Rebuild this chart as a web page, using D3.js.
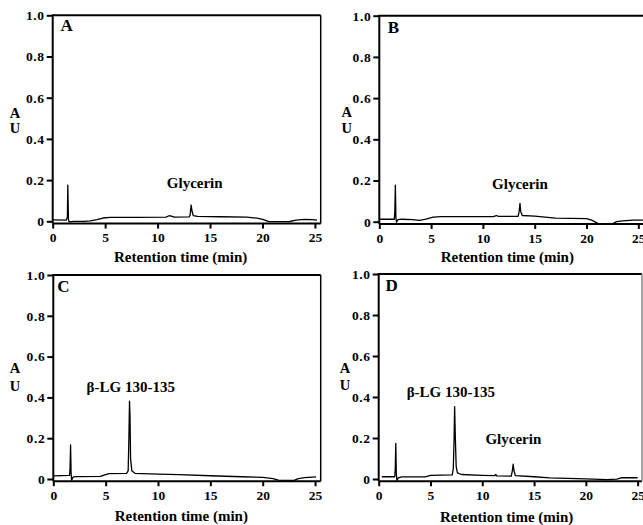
<!DOCTYPE html>
<html>
<head>
<meta charset="utf-8">
<script src="https://cdn.jsdelivr.net/npm/d3@7"></script>
<style>
  body { margin: 0; background: #fff; }
  text { font-family: "Liberation Serif", "Times New Roman", serif; font-weight: bold; fill: #000; }
</style>
</head>
<body>
<svg id="chart" width="643" height="525"></svg>
<script>
// tick values
const xTicks = [0, 5, 10, 15, 20, 25]
const yTicks = [0, 0.2, 0.4, 0.6, 0.8, 1.0]
const xTitle = "Retention time (min)"

// chromatograms, [retention time (min), absorbance (AU)]
const traceA = [[0,0.007],[1.3,0.006],[1.4,0.02],[1.44,0.176],[1.5,0.01],[1.56,-0.003],[2,0],[3,0],[3.6,0.002],[4.2,0.008],
  [4.8,0.016],[5.5,0.019],[8,0.019],[10.8,0.02],[11.1,0.027],[11.3,0.025],[11.6,0.02],[13.0,0.021],[13.1,0.03],[13.2,0.079],
  [13.28,0.05],[13.4,0.028],[13.8,0.024],[16,0.022],[18.5,0.02],[19.5,0.015],[20.1,0.008],[20.6,-0.002],[22,-0.002],
  [22.6,-0.001],[23.2,0.006],[24,0.009],[24.8,0.008],[25.2,0.006]]
const traceB = [[0,0.012],[1.45,0.012],[1.5,0.05],[1.55,0.178],[1.6,0.02],[1.66,-0.002],[1.8,0.01],[2.2,0.012],[3.2,0.01],
  [3.9,0.006],[4.5,0.012],[5.2,0.022],[6,0.025],[11,0.025],[11.3,0.03],[11.5,0.026],[13.4,0.026],[13.5,0.05],[13.58,0.089],
  [13.65,0.05],[13.8,0.03],[15,0.027],[16,0.022],[17,0.017],[20,0.015],[20.5,0.008],[21.1,-0.008],[22.5,-0.01],[22.9,0],
  [23.5,0.004],[24.5,0.008],[25.5,0.008]]
const traceC = [[0,0.015],[1.55,0.018],[1.6,0.05],[1.65,0.167],[1.7,0.03],[1.75,-0.006],[1.9,0.01],[2.3,0.012],[4.5,0.013],
  [5.0,0.022],[5.3,0.026],[7.0,0.028],[7.15,0.04],[7.22,0.2],[7.28,0.382],[7.33,0.3],[7.38,0.1],[7.5,0.04],[7.8,0.028],
  [10,0.024],[12,0.021],[15,0.016],[18,0.011],[20,0.008],[21,0.002],[21.5,-0.006],[23,-0.007],[23.4,0.002],[24,0.007],[25.1,0.01]]
const traceD = [[0.3,0.011],[1.55,0.011],[1.6,0.05],[1.65,0.174],[1.7,0.03],[1.76,-0.008],[1.9,0.006],[2.2,0.01],[4.5,0.01],
  [5.0,0.018],[7.1,0.02],[7.2,0.05],[7.28,0.2],[7.33,0.353],[7.4,0.2],[7.48,0.06],[7.6,0.03],[8,0.022],[10,0.018],[11.2,0.016],
  [11.3,0.022],[11.4,0.015],[12.8,0.014],[12.9,0.04],[12.98,0.072],[13.06,0.04],[13.2,0.016],[15,0.011],[16.5,0.005],
  [20,0.001],[22,-0.003],[23,-0.001],[23.4,0.006],[25,0.006]]

// peak labels, [text, time, AU]
const notesA = [["Glycerin", 13.54, 0.162]]
const notesB = [["Glycerin", 13.58, 0.161]]
const notesC = [["β-LG 130-135", 7.4, 0.426]]
const notesD = [["β-LG 130-135", 6.96, 0.398], ["Glycerin", 13.0, 0.173]]

const panels = [
  {name: "A", trace: traceA, notes: notesA, left: 52.7, right: 320.7, xmax: 25.55, top: 15.3, zero: 221.3,
   titleY: 262, auX: 15, auY: [118, 133], letter: [66.7, 31], rightColor: "#000"},
  {name: "B", trace: traceB, notes: notesB, left: 379.3, right: 644, xmax: 25.55, top: 15.7, zero: 221.7,
   titleY: 262, auX: 346.7, auY: [116.5, 133], letter: [393.3, 33], rightColor: "#000"},
  {name: "C", trace: traceC, notes: notesC, left: 53.3, right: 320.7, xmax: 25.54, top: 275, zero: 479,
   titleY: 520.5, auX: 15, auY: [373, 391], letter: [63.3, 292], rightColor: "#000"},
  {name: "D", trace: traceD, notes: notesD, left: 378.7, right: 642, xmax: 25.42, top: 274, zero: 479,
   titleY: 522, auX: 345, auY: [373, 390], letter: [391.7, 291], rightColor: "#888"}
]

const svg = d3.select("#chart")
const yMin = -0.011

function drawPanel(p) {
  const g = svg.append("g").attr("id", "panel-" + p.name)
  const x = d3.scaleLinear().domain([0, p.xmax]).range([p.left, p.right])
  const y = d3.scaleLinear().domain([0, 1]).range([p.zero, p.top])
  const yb = y(yMin)

  // frame
  g.append("path")
    .attr("d", `M${x(0)},${yb}H${x(p.xmax)}M${x(0)},${yb}V${y(1)}H${x(p.xmax)}`)
    .attr("fill", "none").attr("stroke", "#000").attr("stroke-width", 2)
  g.append("line")
    .attr("x1", x(p.xmax)).attr("x2", x(p.xmax)).attr("y1", y(1)).attr("y2", yb)
    .attr("stroke", p.rightColor).attr("stroke-width", 1.5)

  // trace
  const line = d3.line().x(d => x(d[0])).y(d => y(d[1]))
  g.append("path").datum(p.trace)
    .attr("d", line)
    .attr("fill", "none").attr("stroke", "#000").attr("stroke-width", 1.3)
    .attr("stroke-linejoin", "round")

  // axes
  const ax = g.append("g").attr("transform", `translate(0,${yb})`)
    .call(d3.axisBottom(x).tickValues(xTicks).tickSize(5).tickSizeOuter(0).tickPadding(4).tickFormat(d3.format("d")))
  const ay = g.append("g").attr("transform", `translate(${x(0)},0)`)
    .call(d3.axisLeft(y).tickValues(yTicks).tickSize(6).tickSizeOuter(0).tickPadding(2)
      .tickFormat(d => d === 0 ? "0" : d3.format(".1f")(d)))
  for (const a of [ax, ay]) {
    a.select(".domain").remove()
    a.selectAll(".tick line").attr("stroke", "#000").attr("stroke-width", 2)
    a.selectAll("text").style("font-size", "13.5px").attr("fill", "#000")
  }
  ay.selectAll("text").style("letter-spacing", "0.6px")

  // labels
  g.append("text").attr("x", p.left + 128).attr("y", p.titleY)
    .attr("text-anchor", "middle").style("font-size", "15px").text(xTitle)
  g.append("text").attr("x", p.auX).attr("y", p.auY[0]).attr("text-anchor", "middle").style("font-size", "14.5px").text("A")
  g.append("text").attr("x", p.auX).attr("y", p.auY[1]).attr("text-anchor", "middle").style("font-size", "14.5px").text("U")
  g.append("text").attr("x", p.letter[0]).attr("y", p.letter[1]).attr("text-anchor", "middle")
    .style("font-size", "17px").text(p.name)
  g.selectAll(".note").data(p.notes).join("text").attr("class", "note")
    .attr("x", d => x(d[1])).attr("y", d => y(d[2]))
    .attr("text-anchor", "middle").style("font-size", "15px").text(d => d[0])
}

panels.forEach(drawPanel)
</script>
</body>
</html>
